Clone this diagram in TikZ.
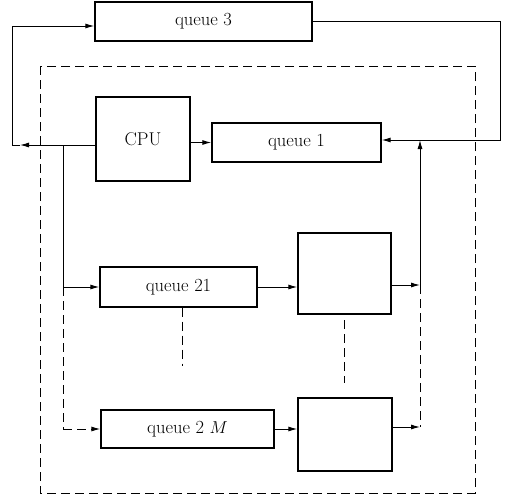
\documentclass[tikz,border=0pt]{standalone}
\usetikzlibrary{arrows.meta}
\begin{document}
\begin{tikzpicture}[x=1pt,y=-1pt,
  box/.style={draw,line width=1.4pt,rectangle,inner sep=0pt,font=\fontsize{18.5}{22}\selectfont},
  ln/.style={line width=1pt},
  arr/.style={ln,-{Latex[length=9pt,width=5pt]}},
  dsh/.style={ln,dash pattern=on 9pt off 5pt}]
\useasboundingbox (0,0) rectangle (507,498);
% dashed frame
\draw[dsh] (40,66) rectangle (475,493);
% boxes
\node[box,minimum width=217pt,minimum height=39pt] (q3) at (203.5,21.5) {queue 3};
\node[box,minimum width=94pt,minimum height=84pt] (cpu) at (143,139) {CPU};
\node[box,minimum width=169pt,minimum height=39pt] (q1) at (296.5,142.5) {queue 1};
\node[box,minimum width=157pt,minimum height=40pt] (q21) at (178.5,287) {queue 21};
\node[box,minimum width=93pt,minimum height=81pt] (s1) at (344.5,273.5) {};
\node[box,minimum width=173pt,minimum height=38pt] (q2m) at (187.5,429) {queue 2 $M$};
\node[box,minimum width=94pt,minimum height=73pt] (s2) at (345,434.5) {};
% coordinates
\coordinate (L0) at (20,145);
\coordinate (L1) at (12,145);
\coordinate (L2) at (12,26);
\coordinate (R1) at (500,21.5);
\coordinate (R2) at (500,140);
\coordinate (B1) at (63,145);
\coordinate (B2) at (63,287);
\coordinate (B3) at (63,429);
\coordinate (C1) at (420,285);
\coordinate (C2) at (420,140);
\coordinate (C3) at (420,427);
\coordinate (D1) at (182,366);
\coordinate (E1) at (344,320);
\coordinate (E2) at (344,383);
% CPU -> queue 3
\draw[arr] (cpu.west |- L0) -- (L0);
\draw[arr] (L0) -- (L1) -- (L2) -- (q3.west |- L2);
% queue 3 -> queue 1
\draw[arr] (q3.east) -- (R1) -- (R2) -- (q1.east |- R2);
% CPU -> queue 1
\draw[arr] (cpu.east |- q1.west) -- (q1.west);
% CPU -> queue 21
\draw[arr] (B1) -- (B2) -- (q21.west);
\draw[dsh] (B2) -- (B3);
\draw[dsh,-{Latex[length=9pt,width=5pt]}] (B3) -- (q2m.west);
% queue 21 -> server 1
\draw[arr] (q21.east) -- (s1.west |- q21.east);
\draw[arr] (s1.east |- C1) -- (C1);
\draw[arr] (C1) -- (C2);
\draw[dsh] (C1) -- (C3);
% queue 2M -> server 2
\draw[arr] (q2m.east) -- (s2.west |- q2m.east);
\draw[arr] (s2.east |- C3) -- (C3);
% ellipsis dashes
\draw[dsh] (q21.south -| D1) -- (D1);
\draw[dsh] (E1) -- (E2);
\end{tikzpicture}
\end{document}
